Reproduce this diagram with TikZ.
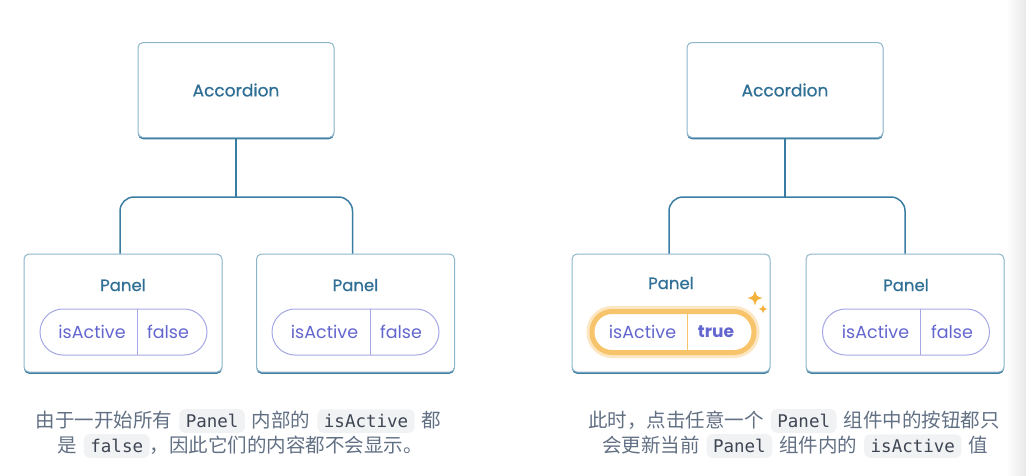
\documentclass[tikz,border=0pt]{standalone}
\usepackage{fontspec}
\setmainfont{Poppins}
\setmonofont{DejaVu Sans Mono}
\newfontfamily\medfont{Poppins}[FakeBold=0.7]
\newfontfamily\cjk{Noto Sans CJK SC}[WordSpace=1.6]
\usetikzlibrary{positioning}

\definecolor{boxedge}{HTML}{8DB6CB}
\definecolor{boxshade}{HTML}{3F7BA1}
\definecolor{wire}{HTML}{3B7CA3}
\definecolor{title}{HTML}{2F6F96}
\definecolor{pilledge}{HTML}{A5A8E4}
\definecolor{pilltext}{HTML}{6366CF}
\definecolor{glow}{HTML}{F7C46C}
\definecolor{glowsoft}{HTML}{FCE7C2}
\definecolor{spark}{HTML}{F4B23C}
\definecolor{captext}{HTML}{627084}
\definecolor{codebg}{HTML}{F1F2F4}
\definecolor{codetext}{HTML}{3E4553}

% inline code chip
\newcommand{\code}[1]{\tikz[baseline=(c.base)]\node[codechip] (c) {#1};}
% four point star
\newcommand{\sparkle}[3]{%
  \fill[spark] (#1,#2-#3) .. controls (#1+0.22*#3,#2-0.22*#3) .. (#1+#3,#2)
    .. controls (#1+0.22*#3,#2+0.22*#3) .. (#1,#2+#3)
    .. controls (#1-0.22*#3,#2+0.22*#3) .. (#1-#3,#2)
    .. controls (#1-0.22*#3,#2-0.22*#3) .. cycle;}

\begin{document}
\begin{tikzpicture}[x=1pt,y=-1pt]
    \tikzstyle{box}=[draw=boxedge, fill=white, line width=1pt, rounded corners=5pt,
      preaction={fill=boxshade, transform canvas={yshift=-1.8pt}}]
    \tikzstyle{acc}=[box, minimum width=196pt, minimum height=95pt, text=title,
      font=\medfont\fontsize{17}{20}\selectfont]
    \tikzstyle{panel}=[box, minimum width=198pt, minimum height=118pt]
    \tikzstyle{ptitle}=[text=title, font=\medfont\fontsize{16.5}{19}\selectfont]
    \tikzstyle{pill}=[draw=pilledge, line width=1pt, fill=white, rounded corners=23pt,
      minimum width=167pt, minimum height=46pt]
    \tikzstyle{hotpill}=[draw=glow, line width=5pt, fill=white, rounded corners=20pt,
      minimum width=162pt, minimum height=41pt,
      preaction={draw=glowsoft, line width=11pt}]
    \tikzstyle{ptext}=[text=pilltext, font=\fontsize{17.5}{20}\selectfont]
    \tikzstyle{wire}=[draw=wire, line width=1.5pt, rounded corners=14pt]
    \tikzstyle{capline}=[text=captext, font=\cjk\fontsize{19.5}{22}\selectfont, inner sep=0pt]
    \tikzstyle{codechip}=[fill=codebg, text=codetext, rounded corners=6pt, inner xsep=6.5pt,
      inner ysep=5pt, font=\ttfamily\fontsize{17.5}{20}\selectfont]

    \useasboundingbox (0,0) rectangle (1026,475);
    \shade[left color=white, right color=black!9] (1006,0) rectangle (1026,475);

    % left tree
    \node[acc] (accA) at (236,90) {Accordion};
    \node[panel] (pa) at (123,313) {};
    \node[panel] (pb) at (355.5,313) {};
    \coordinate (ja) at (236,197);
    \draw[wire] (accA.south) -- (ja);
    \draw[wire] ([xshift=-3pt]pa.north) |- (ja) -| ([xshift=-3pt]pb.north);

    \node[ptitle] (ta) at (123,285) {Panel};
    \node[pill] (la) at (123.5,332) {};
    \draw[pilledge, line width=1pt] (137,309) -- (137,355);
    \node[ptext] (ka) at (92,332) {isActive};
    \node[ptext] (va) at (168,332) {false};

    \node[ptitle] (tb) at (355.5,285) {Panel};
    \node[pill] (lb) at (355.5,332) {};
    \draw[pilledge, line width=1pt] (370,309) -- (370,355);
    \node[ptext] (kb) at (324.5,332) {isActive};
    \node[ptext] (vb) at (401,332) {false};

    % right tree
    \node[acc] (accB) at (785,90) {Accordion};
    \node[panel] (pc) at (671,313) {};
    \node[panel] (pd) at (905,313) {};
    \coordinate (jb) at (785,197);
    \draw[wire] (accB.south) -- (jb);
    \draw[wire] ([xshift=-2pt]pc.north) |- (jb) -| (pd.north);

    \node[ptitle] (tc) at (671,283) {Panel};
    \node[hotpill] (lc) at (673,332) {};
    \draw[glow, line width=1pt] (687,312) -- (687,352);
    \node[ptext] (kc) at (642.5,332) {isActive};
    \node[ptext, font=\bfseries\fontsize{17}{20}\selectfont] (vc) at (716,332) {true};
    \sparkle{755}{298}{7.5}
    \sparkle{763}{309}{4.5}

    \node[ptitle] (td) at (906,285) {Panel};
    \node[pill] (ld) at (906,332) {};
    \draw[pilledge, line width=1pt] (920,309) -- (920,355);
    \node[ptext] (kd) at (875.5,332) {isActive};
    \node[ptext] (vd) at (952,332) {false};

    % captions
    \node[capline] (ca1) at (238.5,421) {由于一开始所有 \code{Panel} 内部的 \code{isActive} 都};
    \node[capline] (ca2) at (240,446) {是 \code{false}，因此它们的内容都不会显示。};
    \node[capline] (cb1) at (794,421) {此时，点击任意一个 \code{Panel} 组件中的按钮都只};
    \node[capline] (cb2) at (795,446) {会更新当前 \code{Panel} 组件内的 \code{isActive} 值};
\end{tikzpicture}
\end{document}
